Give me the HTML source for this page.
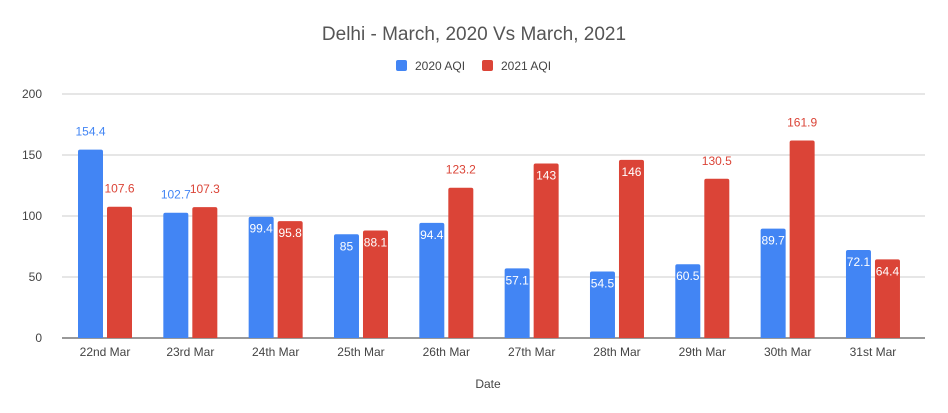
<!DOCTYPE html>
<html><head><meta charset="utf-8"><style>
html,body{margin:0;padding:0;background:#fff;}
svg{display:block;font-family:"Liberation Sans",Arial,sans-serif;}
</style></head><body>
<svg id="chart" width="948" height="413">
<text x="474" y="40" text-anchor="middle" font-size="19" fill="#555">Delhi - March, 2020 Vs March, 2021</text>
<g>
<rect x="396" y="60" width="11" height="11" rx="2" fill="#4285f4"/>
<text x="415" y="70" font-size="12" fill="#444">2020 AQI</text>
<rect x="482" y="60" width="11" height="11" rx="2" fill="#db4437"/>
<text x="501" y="70" font-size="12" fill="#444">2021 AQI</text>
</g>
<g id="grid"></g><g id="bars"></g>
<text x="488" y="388" text-anchor="middle" font-size="12" fill="#444">Date</text>
</svg>
<script>
const categories=["22nd Mar","23rd Mar","24th Mar","25th Mar","26th Mar","27th Mar","28th Mar","29th Mar","30th Mar","31st Mar"];
const aqi2020=[154.4,102.7,99.4,85,94.4,57.1,54.5,60.5,89.7,72.1];
const aqi2021=[107.6,107.3,95.8,88.1,123.2,143,146,130.5,161.9,64.4];
const inside2020=[false,false,true,true,true,true,true,true,true,true];
const inside2021=[false,false,true,true,false,true,true,false,false,true];
const yTicks=[0,50,100,150,200];
const NS="http://www.w3.org/2000/svg";
const y0=338,y1=94,yMax=200,x0=62,step=85.33;
const y=v=>y0-(v/yMax)*(y0-y1);
const xc=i=>105+i*step;
const grid=document.getElementById('grid'),bars=document.getElementById('bars');
function mk(tag,attrs,parent){const e=document.createElementNS(NS,tag);for(const k in attrs)e.setAttribute(k,attrs[k]);parent.appendChild(e);return e;}
yTicks.forEach(t=>{
 const l=mk('line',{x1:x0,x2:925,y1:y(t),y2:y(t),stroke:t===0?'#333':'#ccc','stroke-width':1},grid);
 
 
 const tx=mk('text',{x:42,y:y(t)+4,'text-anchor':'end','font-size':12,fill:'#444'},grid);
 tx.textContent=t;
 
 
});
const series=[{d:aqi2020,ins:inside2020,c:'#4285f4',off:-27,n:'2020'},{d:aqi2021,ins:inside2021,c:'#db4437',off:2,n:'2021'}];
categories.forEach((c,i)=>{
 const lab=mk('text',{x:xc(i),y:356,'text-anchor':'middle','font-size':12,fill:'#444'},grid);
 lab.textContent=c;
 
 
 series.forEach(s=>{
  const v=s.d[i],bx=xc(i)+s.off;
  const r=mk('path',{d:`M${bx},${y0} V${y(v)+2} q0,-2 2,-2 h21 q2,0 2,2 V${y0}Z`,fill:s.c},bars);
  
  
  const t=mk('text',{x:bx+12.5,y:s.ins[i]?y(v)+16:y(v)-14,'text-anchor':'middle','font-size':12,fill:s.ins[i]?'#fff':s.c},bars);
  t.textContent=v;
  
  
 });
});
</script>
</body></html>
